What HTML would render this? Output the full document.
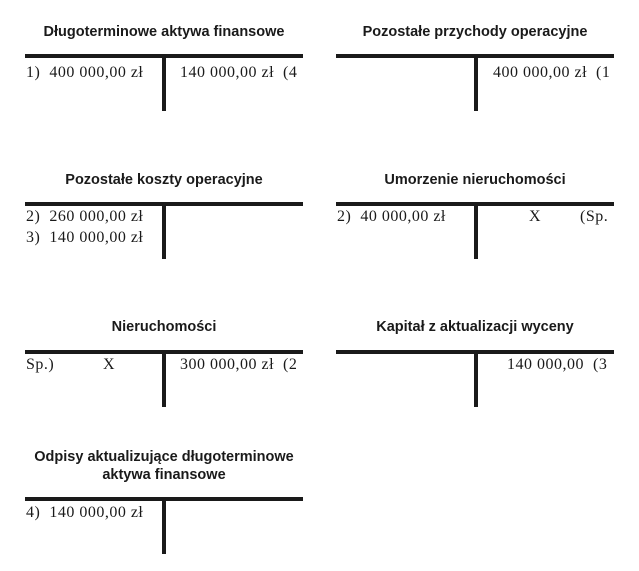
<!DOCTYPE html>
<html><head><meta charset="utf-8"><style>
body{margin:0;width:639px;height:571px;background:#fff;position:relative;overflow:hidden}
.t{position:absolute;font-family:"Liberation Sans",sans-serif;font-weight:bold;font-size:14.5px;color:#1a1a1a;text-align:center;width:278px;line-height:18px}
.h{position:absolute;height:4px;background:#1a1a1a;width:278px}
.v{position:absolute;width:4px;background:#1a1a1a;height:56px}
.n{position:absolute;font-family:"Liberation Serif",serif;font-size:16px;letter-spacing:0.5px;color:#1a1a1a;white-space:nowrap;line-height:18px}
</style></head><body>
<div class="t" style="left:25px;top:23px">Długoterminowe aktywa finansowe</div>
<div class="h" style="left:25px;top:54px"></div><div class="v" style="left:162px;top:55px"></div>
<div class="n" style="left:26px;top:64px">1)&nbsp; 400 000,00 zł</div>
<div class="n" style="left:180px;top:64px">140 000,00 zł&nbsp; (4</div>

<div class="t" style="left:336px;top:23px">Pozostałe przychody operacyjne</div>
<div class="h" style="left:336px;top:54px"></div><div class="v" style="left:474px;top:55px"></div>
<div class="n" style="left:493px;top:64px">400 000,00 zł&nbsp; (1</div>

<div class="t" style="left:25px;top:171px">Pozostałe koszty operacyjne</div>
<div class="h" style="left:25px;top:202px"></div><div class="v" style="left:162px;top:203px"></div>
<div class="n" style="left:26px;top:208px">2)&nbsp; 260 000,00 zł</div>
<div class="n" style="left:26px;top:229px">3)&nbsp; 140 000,00 zł</div>

<div class="t" style="left:336px;top:171px">Umorzenie nieruchomości</div>
<div class="h" style="left:336px;top:202px"></div><div class="v" style="left:474px;top:203px"></div>
<div class="n" style="left:337px;top:208px">2)&nbsp; 40 000,00 zł</div>
<div class="n" style="left:529px;top:208px">X</div>
<div class="n" style="left:580px;top:208px">(Sp.</div>

<div class="t" style="left:25px;top:318px">Nieruchomości</div>
<div class="h" style="left:25px;top:350px"></div><div class="v" style="left:162px;top:351px"></div>
<div class="n" style="left:26px;top:356px">Sp.)</div>
<div class="n" style="left:103px;top:356px">X</div>
<div class="n" style="left:180px;top:356px">300 000,00 zł&nbsp; (2</div>

<div class="t" style="left:25px;top:448px">Odpisy aktualizujące długoterminowe<br>aktywa finansowe</div>
<div class="h" style="left:25px;top:497px"></div><div class="v" style="left:162px;top:498px"></div>
<div class="n" style="left:26px;top:504px">4)&nbsp; 140 000,00 zł</div>

<div class="t" style="left:336px;top:318px">Kapitał z aktualizacji wyceny</div>
<div class="h" style="left:336px;top:350px"></div><div class="v" style="left:474px;top:351px"></div>
<div class="n" style="left:507px;top:356px">140 000,00&nbsp; (3</div>
</body></html>
